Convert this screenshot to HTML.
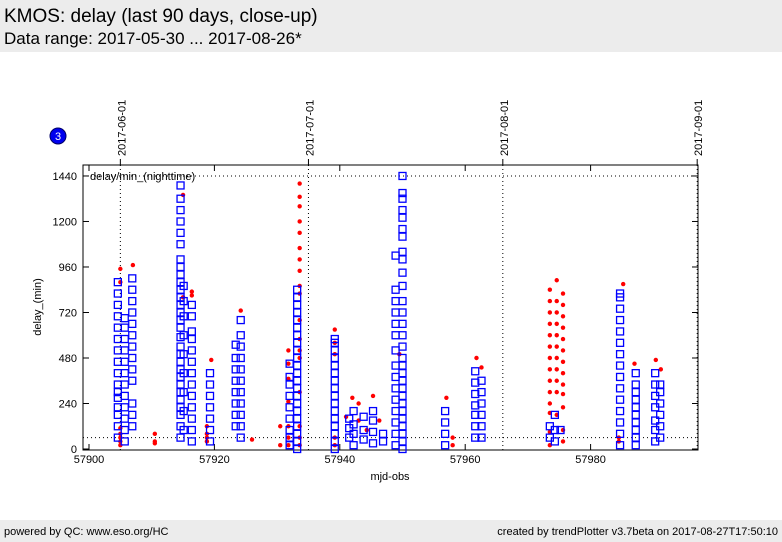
<!DOCTYPE html>
<html><head><meta charset="utf-8"><style>
body{margin:0;width:782px;height:542px;background:#fff;font-family:"Liberation Sans",sans-serif;overflow:hidden;position:relative}
.hdr{position:absolute;left:0;top:0;width:782px;height:52px;background:#ececec}
.ftr{position:absolute;left:0;top:520px;width:782px;height:22px;background:#ececec;font-size:11px}
</style></head><body>
<div class="hdr">
<div style="position:absolute;left:4px;top:6px;font-size:19px">KMOS: delay (last 90 days, close-up)</div>
<div style="position:absolute;left:4px;top:29px;font-size:17px">Data range: 2017-05-30 ... 2017-08-26*</div>
</div>
<div class="ftr">
<span style="position:absolute;left:4px;top:6px">powered by QC: www.eso.org/HC</span>
<span style="position:absolute;right:4px;top:6px">created by trendPlotter v3.7beta on 2017-08-27T17:50:10</span>
</div>
<svg id="chart" width="782" height="542" style="position:absolute;left:0;top:0"></svg>
<script>
const xTicks=[57900,57920,57940,57960,57980];
const yTicks=[0,240,480,720,960,1200,1440];
const dateLabels=["2017-06-01","2017-07-01","2017-08-01","2017-09-01"];
const dateMjd=[57905,57935,57966,57997];
const sqCols=[
[57904.6,[60,120,180,220,270,300,340,400,460,520,580,640,700,760,820,880]],
[57905.7,[40,100,160,220,280,340,400,460,520,580,640,690]],
[57906.9,[120,180,240,360,420,480,540,600,660,720,780,840,900]],
[57914.6,[60,120,180,220,260,300,340,380,420,460,500,540,590,640,680,720,760,800,840,880,920,960,1000,1080,1140,1200,1260,1320,1390]],
[57915.1,[100,200,300,400,500,600,700,780,860]],
[57916.4,[40,100,160,220,280,340,400,460,520,580,620,700,760]],
[57919.3,[40,100,160,220,280,340,400]],
[57923.4,[120,180,240,300,360,420,480,550]],
[57924.2,[60,120,180,240,300,360,420,480,540,600,680]],
[57932.0,[20,60,100,160,220,280,340,380,450]],
[57933.2,[0,40,80,120,160,200,240,280,320,360,400,440,480,520,560,600,640,680,720,760,800,840]],
[57939.2,[0,40,80,120,160,200,240,280,320,360,400,440,480,520,560,580]],
[57941.5,[60,110,160]],
[57942.2,[20,80,130,200]],
[57943.8,[50,100,170]],
[57945.3,[30,90,150,200]],
[57946.9,[40,80]],
[57948.9,[20,80,140,200,260,320,380,440,520,600,660,720,780,840,1020]],
[57950.0,[0,40,80,120,160,200,240,280,320,360,400,440,480,540,600,660,720,780,860,930,1000,1040,1120,1160,1220,1260,1320,1350,1440]],
[57956.8,[20,80,140,200]],
[57961.6,[60,120,180,230,290,350,410]],
[57962.6,[60,120,180,240,300,360]],
[57973.5,[60,120]],
[57974.3,[40,100,180]],
[57975.2,[100]],
[57984.7,[20,80,140,200,260,320,380,440,500,560,620,680,740,800,820]],
[57987.2,[20,60,100,140,180,220,260,300,340,400]],
[57990.3,[40,100,150,220,280,340,400]],
[57991.1,[60,120,180,240,300,340]]
];
const dotCols=[
[57905.0,[20,40,60,80,110,880,950]],
[57907.0,[970]],
[57910.5,[30,40,80]],
[57915.0,[800,1340]],
[57916.4,[810,830]],
[57918.8,[40,60,80,120]],
[57919.5,[470]],
[57924.2,[730]],
[57926.0,[50]],
[57930.5,[20,120]],
[57931.8,[20,60,120,250,370,450,520]],
[57933.6,[20,60,120,300,480,520,580,680,820,860,940,1000,1060,1140,1200,1280,1330,1400]],
[57939.2,[20,60,500,560,630]],
[57941.0,[170]],
[57942.0,[270]],
[57943.0,[240,150]],
[57944.3,[100]],
[57945.3,[280]],
[57946.3,[150]],
[57949.5,[500]],
[57957.0,[270]],
[57958.0,[20,60]],
[57961.8,[480]],
[57962.6,[430]],
[57973.5,[20,90,190,240,300,360,420,480,540,600,660,720,780,840]],
[57974.6,[890,780,720,660,600,540,480,420,360,300,180]],
[57975.6,[40,100,220,290,340,400,460,520,580,640,700,760,820]],
[57984.5,[40,60]],
[57985.2,[870]],
[57987.0,[450]],
[57990.4,[470]],
[57991.2,[420]]
];
const svg=document.getElementById('chart');
const NS='http://www.w3.org/2000/svg';
const X0=83,X1=698,Y0=165,Y1=450;
function xs(m){return 89+(m-57900)*6.27;}
function ys(v){return 449-v*0.1896;}
function mk(t,a){const e=document.createElementNS(NS,t);for(const k in a)e.setAttribute(k,a[k]);svg.appendChild(e);return e;}
let f=mk('rect',{x:X0,y:Y0,width:X1-X0,height:Y1-Y0,fill:'none',stroke:'#000','stroke-width':1});


[1440,60].forEach(v=>{const l=mk('line',{x1:X0,x2:X1,y1:ys(v),y2:ys(v),stroke:'#000','stroke-dasharray':'1,3'});

});
dateMjd.forEach((m,i)=>{const x=xs(m);
const l=mk('line',{x1:x,x2:x,y1:Y0,y2:Y1,stroke:'#000','stroke-dasharray':'1,3'});


const t=mk('text',{x:0,y:0,transform:`translate(${x+5},156) rotate(-90)`,'font-size':11,'font-family':'Liberation Sans, sans-serif'});
t.textContent=dateLabels[i];


const tk=mk('line',{x1:x,x2:x,y1:Y0-6,y2:Y0,stroke:'#000'});

});
xTicks.forEach(m=>{const x=xs(m);
const tk=mk('line',{x1:x,x2:x,y1:Y1,y2:Y1-6,stroke:'#000'});


const tk2=mk('line',{x1:x,x2:x,y1:Y0,y2:Y0+6,stroke:'#000'});


const t=mk('text',{x:x,y:463,'text-anchor':'middle','font-size':11});
t.textContent=m;

});
yTicks.forEach(v=>{const y=ys(v);
const tk=mk('line',{x1:X0,x2:X0+6,y1:y,y2:y,stroke:'#000'});


const tk2=mk('line',{x1:X1-6,x2:X1,y1:y,y2:y,stroke:'#000'});


const t=mk('text',{x:77,y:y+4,'text-anchor':'end','font-size':11});
t.textContent=v;

});
let xl=mk('text',{x:390,y:480,'text-anchor':'middle','font-size':11});xl.textContent='mjd-obs';


let yl=mk('text',{x:0,y:0,transform:'translate(41,307) rotate(-90)','text-anchor':'middle','font-size':11});yl.textContent='delay_(min)';


let lg=mk('text',{x:90,y:180,'font-size':11});lg.textContent='delay/min_(nighttime)';


let c=mk('circle',{cx:58,cy:136,r:8,fill:'#0000ee',stroke:'#000066'});


let ct=mk('text',{x:58,y:140,'text-anchor':'middle','font-size':11,fill:'#fff'});ct.textContent='3';


dotCols.forEach(col=>col[1].forEach(v=>{
const d=mk('circle',{cx:xs(col[0]),cy:ys(v),r:2.2,fill:'#ff0000'});

}));
sqCols.forEach(col=>col[1].forEach(v=>{
const s=mk('rect',{x:xs(col[0])-3.5,y:ys(v)-3.5,width:7,height:7,fill:'none',stroke:'#0000ff','stroke-width':1.3});

}));
</script>
</body></html>
